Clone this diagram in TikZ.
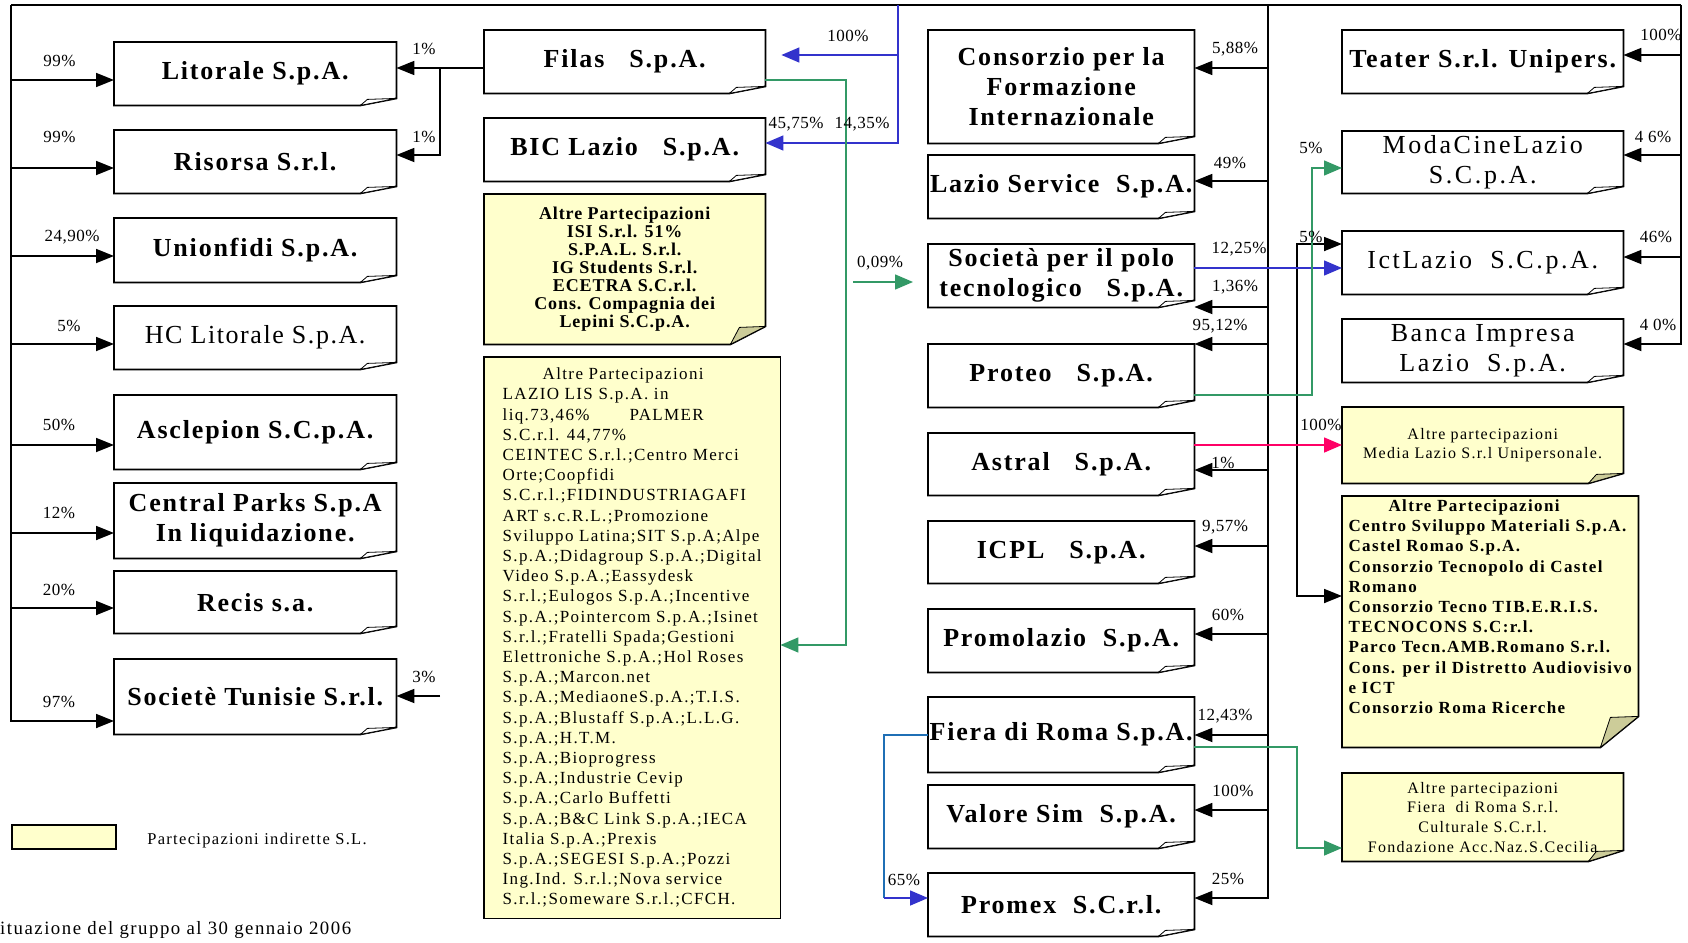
\documentclass[tikz,border=0pt]{standalone}
\usepackage{fontspec}
\setmainfont{Liberation Serif}
\newfontfamily\ttlf[LetterSpace=7]{Liberation Serif}
\newfontfamily\ttlw[LetterSpace=10]{Liberation Serif}
\newfontfamily\ttlh[LetterSpace=6]{Liberation Serif}
\newfontfamily\pctf[LetterSpace=3]{Liberation Serif}
\newfontfamily\ybf[LetterSpace=5]{Liberation Serif}
\newfontfamily\ybw[LetterSpace=8]{Liberation Serif}
\newfontfamily\yrf[LetterSpace=8]{Liberation Serif}
\usetikzlibrary{arrows.meta,calc}
\pgfdeclarelayer{bg}
\pgfsetlayers{bg,main}
\definecolor{ylw}{HTML}{FFFFCC}
\definecolor{curlc}{HTML}{CCCC99}
\definecolor{blc}{HTML}{3333CC}
\definecolor{grc}{HTML}{339966}
\definecolor{pkc}{HTML}{FF0066}
\definecolor{tbc}{HTML}{1F6FB5}
\newcommand{\docbox}[6]{%
  \begin{pgfonlayer}{bg}
  \draw[line width=1.8pt, line join=miter, fill=#2] (#1.north west) -- (#1.north east) -- ([yshift=#5]#1.south east) -- ([xshift=-#4]#1.south east) -- (#1.south west) -- cycle;
  \draw[line width=0.8pt, line join=round, fill=#3] ([xshift=-#4]#1.south east) -- ([xshift=-#4+#6,yshift=#5-1pt]#1.south east) -- ([yshift=#5]#1.south east) -- cycle;
  \end{pgfonlayer}}
\tikzset{
  geo/.style n args={4}{anchor=north west, at={(#1,#2)}, minimum width=#3pt-#1pt, minimum height=#4pt-#2pt},
  tbox/.style={inner sep=0pt, align=center, font=\ttlf\fontsize{26}{30}\bfseries\selectfont},
  tboxr/.style={inner sep=0pt, align=center, font=\ttlw\fontsize{26}{30}\selectfont},
  tboxh/.style={inner sep=0pt, align=center, font=\ttlh\fontsize{26}{30}\selectfont},
  ybox/.style={inner sep=0pt, align=center, font=\ybf\fontsize{18}{18}\bfseries\selectfont},
  yboxl/.style={inner sep=0pt, align=left, font=\yrf\fontsize{17}{20.2}\selectfont},
  yboxb/.style={inner sep=0pt, align=left, font=\ybw\fontsize{17}{20.2}\bfseries\selectfont},
  yboxc/.style={inner sep=0pt, align=center, font=\yrf\fontsize{16}{19.6}\selectfont},
  pl/.style={inner sep=0pt, font=\pctf\fontsize{17}{20}\selectfont},
  ln/.style={line width=1.8pt, black},
  arr/.style={line width=1.8pt, -{Triangle[length=18pt,width=14pt]}},
  carr/.style={line width=1.5pt, -{Triangle[length=18pt,width=15pt]}},
  cln/.style={line width=1.5pt},
}
\begin{document}
\begin{tikzpicture}[x=1pt,y=-1pt]
\useasboundingbox (0,0) rectangle (1688,942);
% ---------- coordinates of trunks
\coordinate (ltop) at (11,5);
\coordinate (rtop) at (1681,5);
\coordinate (mtop) at (1268,5);
\coordinate (btop) at (898,5);
% ---------- left column
\node[tbox, geo={114}{42}{396}{105}] (lit) {Litorale S.p.A.};
\node[tbox, geo={114}{130}{396}{193}] (ris) {Risorsa S.r.l.};
\node[tbox, geo={114}{218}{396}{282}] (uni) {Unionfidi S.p.A.};
\node[tboxh, geo={114}{306}{396}{369}] (hc) {HC Litorale S.p.A.};
\node[tbox, geo={114}{395}{396}{469}] (asc) {Asclepion S.C.p.A.};
\node[tbox, geo={114}{483}{396}{558}] (cp) {Central Parks S.p.A\\In liquidazione.};
\node[tbox, geo={114}{571}{396}{633}] (rec) {Recis s.a.};
\node[tbox, geo={114}{659}{396}{734}] (soc) {Societè Tunisie S.r.l.};
\foreach \n in {lit,ris,uni,hc,asc,cp,rec,soc} {\docbox{\n}{white}{white}{36pt}{7pt}{7pt}}
% ---------- middle column
\node[tbox, geo={484}{30}{765}{93}] (filas) {Filas~~~S.p.A.};
\node[tbox, geo={484}{118}{765}{181}] (bic) {BIC Lazio~~~S.p.A.};
\node[ybox, geo={484}{194}{765}{344}] (alt1) {Altre Partecipazioni\\ISI S.r.l. 51\%\\S.P.A.L. S.r.l.\\IG Students S.r.l.\\ECETRA S.C.r.l.\\Cons. Compagnia dei\\Lepini S.C.p.A.};
\node[yboxl, geo={484}{357}{780}{918}] (alt2) {\hspace*{40pt}Altre Partecipazioni\\
LAZIO LIS S.p.A. in\\
liq.73,46\%\hspace{40pt}PALMER\\
S.C.r.l. 44,77\%\\
CEINTEC S.r.l.;Centro Merci\\
Orte;Coopfidi\\
S.C.r.l.;FIDINDUSTRIAGAFI\\
ART s.c.R.L.;Promozione\\
Sviluppo Latina;SIT S.p.A;Alpe\\
S.p.A.;Didagroup S.p.A.;Digital\\
Video S.p.A.;Eassydesk\\
S.r.l.;Eulogos S.p.A.;Incentive\\
S.p.A.;Pointercom S.p.A.;Isinet\\
S.r.l.;Fratelli Spada;Gestioni\\
Elettroniche S.p.A.;Hol Roses\\
S.p.A.;Marcon.net\\
S.p.A.;MediaoneS.p.A.;T.I.S.\\
S.p.A.;Blustaff S.p.A.;L.L.G.\\
S.p.A.;H.T.M.\\
S.p.A.;Bioprogress\\
S.p.A.;Industrie Cevip\\
S.p.A.;Carlo Buffetti\\
S.p.A.;B\&C Link S.p.A.;IECA\\
Italia S.p.A.;Prexis\\
S.p.A.;SEGESI S.p.A.;Pozzi\\
Ing.Ind. S.r.l.;Nova service\\
S.r.l.;Someware S.r.l.;CFCH.};
\docbox{filas}{white}{white}{36pt}{7pt}{7pt}
\docbox{bic}{white}{white}{36pt}{7pt}{7pt}
\docbox{alt1}{ylw}{curlc}{35pt}{18pt}{9pt}
\begin{pgfonlayer}{bg}
\draw[line width=1.8pt, fill=ylw] (alt2.north west) rectangle (alt2.south east);
\end{pgfonlayer}
% ---------- right-middle column
\node[tbox, geo={928}{30}{1194}{143}] (cons) {Consorzio per la\\Formazione\\Internazionale};
\node[tbox, geo={928}{155}{1194}{218}] (lser) {Lazio Service~~S.p.A.};
\node[tbox, geo={928}{244}{1194}{307}] (spt) {Società per il polo\\tecnologico~~~S.p.A.};
\node[tbox, geo={928}{344}{1194}{407}] (prot) {Proteo~~~S.p.A.};
\node[tbox, geo={928}{433}{1194}{495}] (astr) {Astral~~~S.p.A.};
\node[tbox, geo={928}{521}{1194}{583}] (icpl) {ICPL~~~S.p.A.};
\node[tbox, geo={928}{609}{1194}{672}] (prom) {Promolazio~~S.p.A.};
\node[tbox, geo={928}{697}{1194}{772}] (fiera) {Fiera di Roma S.p.A.};
\node[tbox, geo={928}{785}{1194}{848}] (val) {Valore Sim~~S.p.A.};
\node[tbox, geo={928}{873}{1194}{936}] (promex) {Promex~~S.C.r.l.};
\foreach \n in {cons,lser,spt,prot,astr,icpl,prom,fiera,val,promex} {\docbox{\n}{white}{white}{36pt}{7pt}{7pt}}
% ---------- right column
\node[tbox, geo={1342}{30}{1623}{93}] (teat) {Teater S.r.l. Unipers.};
\node[tboxr, geo={1342}{131}{1623}{193}] (moda) {ModaCineLazio\\S.C.p.A.};
\node[tboxr, geo={1342}{231}{1623}{294}] (ict) {IctLazio~~S.C.p.A.};
\node[tboxr, geo={1342}{319}{1623}{382}] (banca) {Banca Impresa\\Lazio~~S.p.A.};
\foreach \n in {teat,moda,ict,banca} {\docbox{\n}{white}{white}{36pt}{7pt}{7pt}}
\node[yboxc, geo={1342}{407}{1623}{483}] (mlaz) {Altre partecipazioni\\Media Lazio S.r.l Unipersonale.};
\node[yboxb, geo={1342}{496}{1638}{747}] (alt3) {\hspace*{40pt}Altre Partecipazioni\\
Centro Sviluppo Materiali S.p.A.\\
Castel Romao S.p.A.\\
Consorzio Tecnopolo di Castel\\
Romano\\
Consorzio Tecno TIB.E.R.I.S.\\
TECNOCONS S.C:r.l.\\
Parco Tecn.AMB.Romano S.r.l.\\
Cons. per il Distretto Audiovisivo\\
e ICT\\
Consorzio Roma Ricerche\\[10pt]};
\node[yboxc, geo={1342}{773}{1623}{861}] (alt4) {Altre partecipazioni\\Fiera~~di Roma S.r.l.\\Culturale S.C.r.l.\\Fondazione Acc.Naz.S.Cecilia};
\docbox{mlaz}{ylw}{curlc}{35pt}{10pt}{8pt}
\docbox{alt3}{ylw}{curlc}{38pt}{31pt}{10pt}
\docbox{alt4}{ylw}{curlc}{35pt}{11pt}{8pt}
% ---------- legend and caption
\node[draw, line width=1.8pt, fill=ylw, inner sep=0pt, geo={11}{824}{115}{848}] (leg) {};
\node[inner sep=0pt, font=\yrf\fontsize{16.5}{19}\selectfont] (legt) at (257,841) {Partecipazioni indirette S.L.};
\node[inner sep=0pt, anchor=west, font=\yrf\fontsize{18.8}{21}\selectfont] (cap) at (0,930) {ituazione del gruppo al 30 gennaio 2006};
% ---------- black trunks
\draw[ln] (ltop) -- (rtop);
\draw[arr] (ltop) |- (soc.west |- 0,721);
\foreach \n/\y in {lit/80,ris/168,uni/256,hc/344,asc/445,cp/533,rec/608}
  \draw[arr] (ltop |- 0,\y) -- (\n.west |- 0,\y);
\draw[arr] (mtop) |- (promex.east |- 0,898);
\foreach \n/\y in {cons/68,lser/181,spt/307,prot/344,astr/470,icpl/546,prom/634,fiera/735,val/810}
  \draw[arr] (mtop |- 0,\y) -- (\n.east |- 0,\y);
\draw[arr] (rtop) |- (banca.east |- 0,344);
\foreach \n/\y in {teat/55,moda/155,ict/257}
  \draw[arr] (rtop |- 0,\y) -- (\n.east |- 0,\y);
% Filas to Litorale / Risorsa
\coordinate (j1) at (440,68);
\draw[arr] (filas.west |- 0,68) -- (lit.east |- 0,68);
\draw[arr] (j1) |- (ris.east |- 0,155);
\coordinate (s3) at (440,696);
\draw[arr] (s3) -- (soc.east |- 0,696);
% bracket ICT / Altre3
\draw[line width=1.8pt, {Triangle[length=18pt,width=14pt]}-{Triangle[length=18pt,width=14pt]}] (ict.west |- 0,244) -| (1297,596) -- (alt3.west |- 0,596);
% ---------- coloured connectors
\draw[carr, blc] (btop) |- (bic.east |- 0,143);
\draw[carr, blc] (btop |- 0,55) -- ($(filas.east |- 0,55)+(16,0)$);
\draw[carr, grc] (filas.east |- 0,80) -- (846,80) -- (846,645) -- (alt2.east |- 0,645);
\coordinate (g1) at (853,282);
\draw[carr, grc] (g1) -- ($(spt.west |- 0,282)+(-15,0)$);
\draw[carr, blc] (spt.east |- 0,268) -- (ict.west |- 0,268);
\draw[carr, grc] (prot.east |- 0,395) -- (1312,395) -- (1312,168) -- (moda.west |- 0,168);
\draw[carr, pkc] (astr.east |- 0,445) -- (mlaz.west |- 0,445);
\draw[carr, grc] (fiera.east |- 0,747) -- (1297,747) -- (1297,848) -- (alt4.west |- 0,848);
\draw[cln, tbc] (fiera.west |- 0,735) -- (884,735) -- (884,898);
\draw[carr, blc] (884,898) -- (promex.west |- 0,898);
% ---------- percentage labels
\node[pl] (l1) at (59.5,61) {99\%};
\node[pl] (l2) at (59.5,137) {99\%};
\node[pl] (l3) at (72,237) {24,90\%};
\node[pl] (l4) at (69,326) {5\%};
\node[pl] (l5) at (59,425) {50\%};
\node[pl] (l6) at (59,513) {12\%};
\node[pl] (l7) at (59,590) {20\%};
\node[pl] (l8) at (59,702) {97\%};
\node[pl] (l9) at (424,49) {1\%};
\node[pl] (l10) at (424,137) {1\%};
\node[pl] (l11) at (424,677) {3\%};
\node[pl] (l12) at (848,36) {100\%};
\node[pl] (l13) at (796,124) {45,75\%};
\node[pl] (l14) at (862,124) {14,35\%};
\node[pl] (l15) at (880,263) {0,09\%};
\node[pl] (l16) at (1235,49) {5,88\%};
\node[pl] (l17) at (1230,163) {49\%};
\node[pl] (l18) at (1239,249) {12,25\%};
\node[pl] (l19) at (1235,287) {1,36\%};
\node[pl] (l20) at (1220,326) {95,12\%};
\node[pl] (l21) at (1223,463) {1\%};
\node[pl] (l22) at (1225,527) {9,57\%};
\node[pl] (l23) at (1228,615) {60\%};
\node[pl] (l24) at (1225,716) {12,43\%};
\node[pl] (l25) at (1233,791) {100\%};
\node[pl] (l26) at (1228,879) {25\%};
\node[pl] (l27) at (904,880) {65\%};
\node[pl] (l28) at (1661,35) {100\%};
\node[pl] (l29) at (1653,137) {4 6\%};
\node[pl] (l30) at (1656,237) {46\%};
\node[pl] (l31) at (1658,325) {4 0\%};
\node[pl] (l32) at (1311,148) {5\%};
\node[pl] (l33) at (1311,237) {5\%};
\node[pl] (l34) at (1321,425) {100\%};
\end{tikzpicture}
\end{document}
